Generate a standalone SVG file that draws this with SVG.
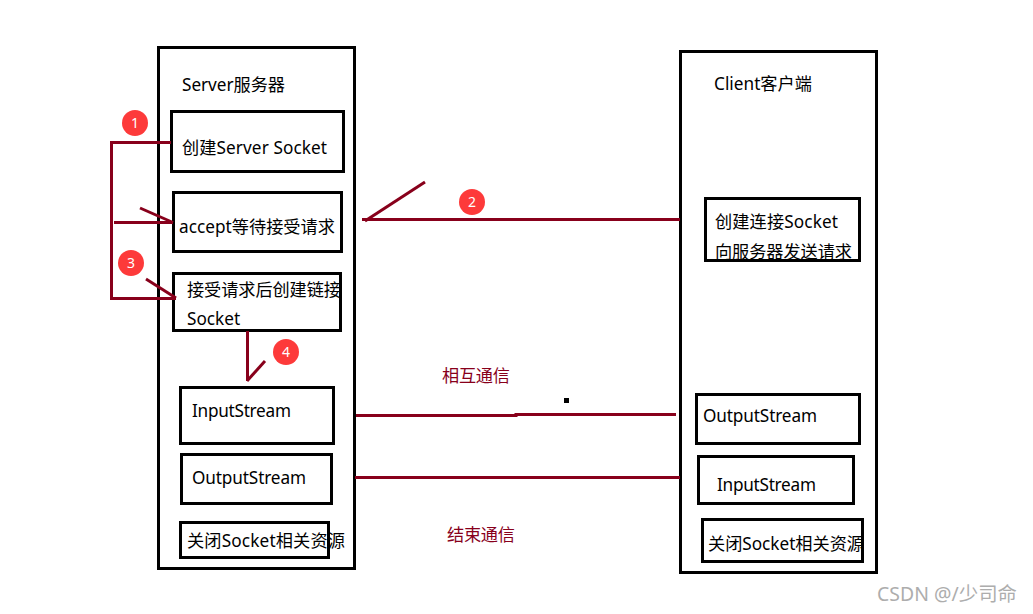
<svg xmlns="http://www.w3.org/2000/svg" width="1033" height="614" viewBox="0 0 1033 614">
<style>
.b{fill:none;stroke:#000;stroke-width:3}
.t{font-family:"Noto Sans","Noto Sans CJK SC",sans-serif;font-size:17.2px;fill:#000}
.r{font-family:"Noto Sans","Noto Sans CJK SC",sans-serif;font-size:17.2px;fill:#88001b}
.c{fill:none;stroke:#88001b;stroke-width:3}
.d{fill:#fd3a3a}
.n{font-family:"Noto Sans",sans-serif;font-size:14px;fill:#fff;text-anchor:middle}
.w{font-family:"Noto Sans","Noto Sans CJK SC",sans-serif;font-size:19.4px;fill:#adadad}
</style>
<rect width="1033" height="614" fill="#fff"/>
<g id="server"><rect class="b" x="158.500" y="47.500" width="196" height="521"/><text class="t" x="182" y="91" textLength="103">Server服务器</text></g>
<g id="client"><rect class="b" x="680.500" y="51.500" width="196" height="521"/><text class="t" x="714" y="90" textLength="98">Client客户端</text></g>
<g id="s1"><rect class="b" x="171.500" y="111.500" width="172" height="60"/><text class="t" x="182" y="154" textLength="145">创建Server Socket</text></g>
<g id="s2"><rect class="b" x="173.500" y="192.500" width="168" height="59"/><text class="t" x="179" y="233" textLength="156">accept等待接受请求</text></g>
<g id="s3"><rect class="b" x="173.500" y="273.500" width="167" height="57"/><text class="t" x="187" y="296" textLength="154">接受请求后创建链接</text><text class="t" x="187" y="325">Socket</text></g>
<g id="s4"><rect class="b" x="180.500" y="387.500" width="153" height="56"/><text class="t" x="192" y="417" textLength="99">InputStream</text></g>
<g id="s5"><rect class="b" x="181.500" y="454.500" width="150" height="49"/><text class="t" x="192" y="484" textLength="114">OutputStream</text></g>
<g id="s6"><rect class="b" x="180.500" y="522.500" width="148" height="35"/><text class="t" x="187" y="547" textLength="158">关闭Socket相关资源</text></g>
<g id="c1"><rect class="b" x="705.500" y="198.500" width="154" height="62"/><text class="t" x="715" y="228" textLength="123">创建连接Socket</text><text class="t" x="715" y="258" textLength="137">向服务器发送请求</text></g>
<g id="c2"><rect class="b" x="696.500" y="394.500" width="163" height="49"/><text class="t" x="703" y="422" textLength="114">OutputStream</text></g>
<g id="c3"><rect class="b" x="698.500" y="456.500" width="155" height="47"/><text class="t" x="717" y="491" textLength="99">InputStream</text></g>
<g id="c4"><rect class="b" x="702.500" y="519.500" width="160" height="42"/><text class="t" x="708" y="550" textLength="156">关闭Socket相关资源</text></g>
<g id="connectors">
<path class="c" d="M171 142.500H111.500V298.500H176"/>
<path class="c" d="M114 222.500H173"/>
<path class="c" d="M173 222.500L140 208"/>
<path class="c" d="M176 298L146 279"/>
<path class="c" d="M247.500 331V381"/>
<path class="c" d="M247 381L265 361"/>
<path class="c" d="M680 219.500H362"/>
<path class="c" d="M365 221L425 182"/>
<path class="c" d="M356 415.500H516V414.500H676"/>
<path class="c" d="M355 477.500H680"/>
<rect x="564" y="398" width="5" height="5" fill="#000"/>
</g>
<g id="labels">
<circle class="d" cx="135" cy="123" r="13"/><text class="n" x="135" y="128">1</text>
<circle class="d" cx="472" cy="202" r="13"/><text class="n" x="472" y="207">2</text>
<circle class="d" cx="131" cy="263" r="13"/><text class="n" x="131" y="268">3</text>
<circle class="d" cx="286" cy="352" r="13"/><text class="n" x="286" y="357">4</text>
<text class="r" x="442" y="382" textLength="68">相互通信</text>
<text class="r" x="447" y="541" textLength="68">结束通信</text>
<text class="w" x="877" y="601" textLength="140">CSDN @/少司命</text>
</g>
</svg>
